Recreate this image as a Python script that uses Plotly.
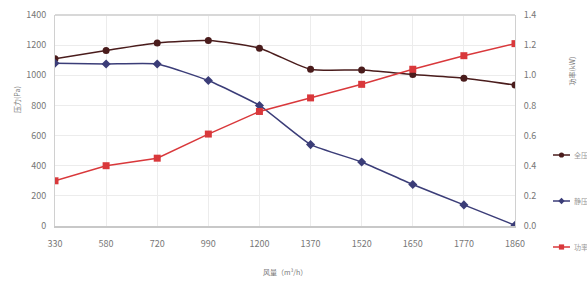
import plotly.graph_objects as go

categories = ["330", "580", "720", "990", "1200", "1370", "1520", "1650", "1770", "1860"]
total_pressure = [1110, 1165, 1215, 1230, 1180, 1040, 1035, 1005, 980, 935]
static_pressure = [1080, 1075, 1075, 965, 800, 540, 425, 275, 140, 5]
power = [0.30, 0.40, 0.45, 0.61, 0.76, 0.85, 0.94, 1.04, 1.13, 1.21]
series_names = ["全压", "静压", "功率"]

FONT = "Noto Sans CJK SC"
c_total = "#4a1c1c"
c_static = "#3b3d78"
c_power = "#d9383b"
colors = [c_total, c_static, c_power]

W, H = 587, 285
L, R, T, B = 55, 5, 15, 59
plot_right = 515
PW = W - L - R
PH = H - B - T
dom = (plot_right - L) / PW

def px_x(px):
    return (px - L) / PW

def px_y(py):
    return (H - B - py) / PH

fig = go.Figure()
fig.add_trace(go.Scatter(x=categories, y=total_pressure, name=series_names[0], mode="lines+markers",
                         line=dict(color=c_total, width=1.5, shape="spline", smoothing=0.6),
                         marker=dict(symbol="circle", size=7, color=c_total), showlegend=False))
fig.add_trace(go.Scatter(x=categories, y=static_pressure, name=series_names[1], mode="lines+markers",
                         line=dict(color=c_static, width=1.5, shape="spline", smoothing=0.4),
                         marker=dict(symbol="diamond", size=7, color=c_static), showlegend=False))
fig.add_trace(go.Scatter(x=categories, y=power, name=series_names[2], mode="lines+markers", yaxis="y2",
                         line=dict(color=c_power, width=1.5),
                         marker=dict(symbol="square", size=7, color=c_power), showlegend=False))

# legend keys drawn as shapes + text annotations (placed at the right like the reference)
legend_y = [155, 201, 247]
shapes = [dict(type="line", xref="x domain", yref="paper", x0=0, x1=1, y0=1, y1=1,
               line=dict(color="#d8d8d8", width=2))]
annotations = []
kinds = ["circle", "diamond", "square"]
for name, col, yy, kind in zip(series_names, colors, legend_y, kinds):
    y = px_y(yy)
    shapes.append(dict(type="line", xref="paper", yref="paper", x0=px_x(553), x1=px_x(570),
                       y0=y, y1=y, line=dict(color=col, width=1.5)))
    cx = 561.5
    r = 2.6
    if kind == "circle":
        shapes.append(dict(type="circle", xref="paper", yref="paper",
                           x0=px_x(cx - r), x1=px_x(cx + r), y0=px_y(yy + r), y1=px_y(yy - r),
                           fillcolor=col, line=dict(width=0)))
    elif kind == "square":
        shapes.append(dict(type="rect", xref="paper", yref="paper",
                           x0=px_x(cx - r), x1=px_x(cx + r), y0=px_y(yy + r), y1=px_y(yy - r),
                           fillcolor=col, line=dict(width=0)))
    else:
        d = r + 0.6
        path = "M {:.5f},{:.5f} L {:.5f},{:.5f} L {:.5f},{:.5f} L {:.5f},{:.5f} Z".format(
            px_x(cx - d), px_y(yy), px_x(cx), px_y(yy - d), px_x(cx + d), px_y(yy), px_x(cx), px_y(yy + d))
        shapes.append(dict(type="path", xref="paper", yref="paper", path=path,
                           fillcolor=col, line=dict(width=0)))
    annotations.append(dict(text=name, xref="paper", yref="paper", x=px_x(571.5), y=y,
                            xanchor="left", yanchor="middle", showarrow=False,
                            font=dict(size=7, color="#999999")))

annotations += [
    dict(text="压力(Pa)", xref="paper", yref="paper", x=px_x(10), y=px_y(100), textangle=-90,
         showarrow=False, font=dict(size=7, color="#777777")),
    dict(text="功率(kW)", xref="paper", yref="paper", x=px_x(578), y=px_y(55), textangle=-90,
         showarrow=False, font=dict(size=7, color="#777777")),
    dict(text="风量（m³/h）", xref="paper", yref="paper", x=px_x(285), y=px_y(272), yanchor="middle",
         showarrow=False, font=dict(size=7, color="#777777")),
]

fig.update_layout(
    width=W, height=H,
    margin=dict(l=L, r=R, t=T, b=B),
    paper_bgcolor="white", plot_bgcolor="white",
    font=dict(family=FONT, size=9, color="#555555"),
    showlegend=False,
    xaxis=dict(type="category", range=[0, 9], domain=[0, dom], showgrid=True, gridcolor="#ececec",
               showline=True, linecolor="#c8c8c8", linewidth=2, mirror=False, automargin=False,
               ticks="", ticklabelstandoff=8, tickfont=dict(size=9, color="#777777"), zeroline=False),
    yaxis=dict(range=[0, 1400], dtick=200, showgrid=True, gridcolor="#ececec", automargin=False,
               showline=True, linecolor="#d0d0d0", ticks="", zeroline=False, ticklabelstandoff=6,
               tickfont=dict(size=9, color="#777777")),
    yaxis2=dict(range=[0, 1.4], dtick=0.2, tickformat=".1f", overlaying="y", side="right",
                anchor="x", automargin=False, ticklabelstandoff=6,
                showgrid=False, showline=True, linecolor="#d0d0d0", ticks="", zeroline=False,
                tickfont=dict(size=9, color="#777777")),
    shapes=shapes,
    annotations=annotations,
)

fig.write_html("out.html", config={"displayModeBar": False},
               post_script="document.body.style.margin='0';")
